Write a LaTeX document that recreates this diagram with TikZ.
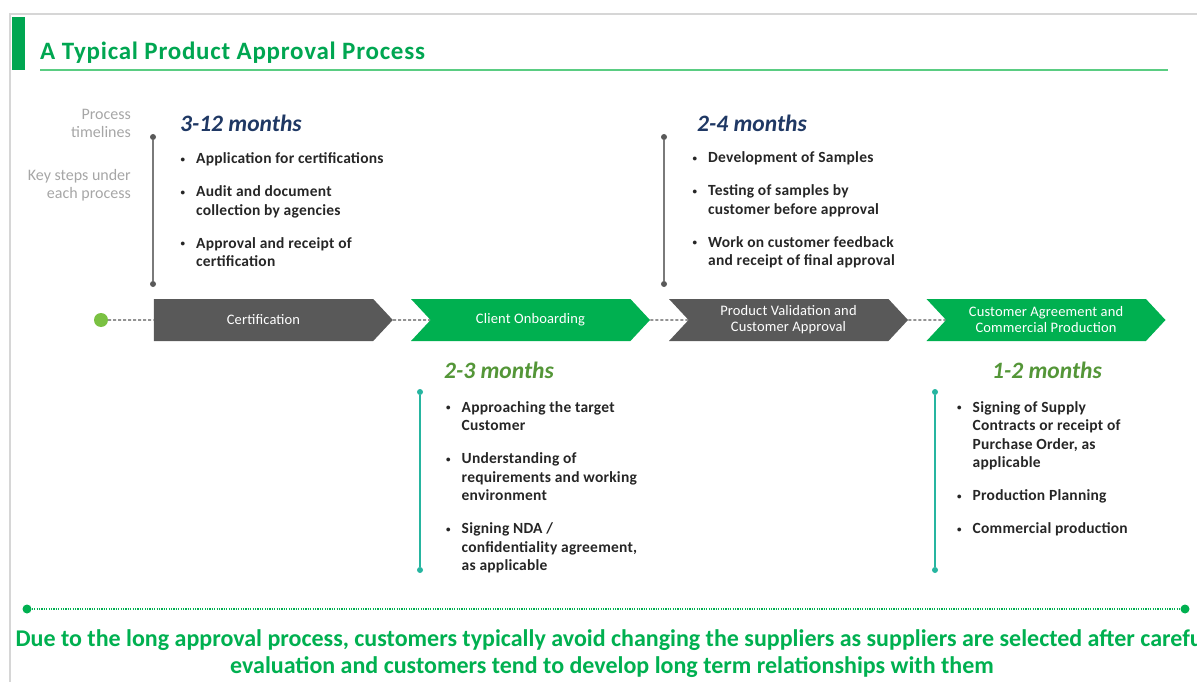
\documentclass[tikz,border=0pt]{standalone}
\usepackage{fontspec}
\setmainfont{Carlito}
\usetikzlibrary{shapes.symbols,backgrounds}

\definecolor{framegray}{RGB}{214,214,214}
\definecolor{titlegreen}{RGB}{0,166,81}
\definecolor{rulegreen}{RGB}{90,205,130}
\definecolor{stagegray}{RGB}{89,89,89}
\definecolor{stagegreen}{RGB}{0,176,80}
\definecolor{startgreen}{RGB}{122,193,66}
\definecolor{navytext}{RGB}{31,56,100}
\definecolor{olivegreen}{RGB}{84,150,56}
\definecolor{tealline}{RGB}{38,181,160}
\definecolor{labelgray}{RGB}{166,166,166}
\definecolor{bodytext}{RGB}{38,38,38}

\newcommand{\stepbullet}{\makebox[15.5pt][l]{\raisebox{1.5pt}{\fontsize{9}{9}\selectfont\textbullet}}}
\newcommand{\stepgap}{\\[14.5pt]}

\tikzset{
  stage/.style={signal, signal to=east, signal pointer angle=94,
    minimum width=239pt, minimum height=42pt, inner sep=0pt,
    align=center, text=white, font=\fontsize{14.5}{16}\selectfont\addfontfeatures{LetterSpace=1}},
  firststage/.style={stage, signal from=nowhere},
  laterstage/.style={stage, signal from=west},
  period/.style={anchor=base west, inner sep=0pt, font=\fontsize{23.5}{24}\selectfont\bfseries\itshape},
  steplist/.style={anchor=base west, inner sep=0pt, text=bodytext,
    font=\fontsize{15.5}{18.5}\selectfont\bfseries\addfontfeatures{LetterSpace=1.5}},
  sidelabel/.style={anchor=base east, inner sep=0pt, text=labelgray, font=\fontsize{16}{18}\selectfont},
  tdot/.style={circle, fill=#1, inner sep=0pt, minimum size=6pt},
  tline/.style={line width=1.5pt, draw=#1},
  link/.style={draw=stagegray, line width=1.3pt, dash pattern=on 3pt off 2pt}
}

\begin{document}
\begin{tikzpicture}[x=1pt, y=-1pt]
  \useasboundingbox (0,0) rectangle (1197,682);

  % frame and heading
  \draw[framegray, line width=1.5pt] (10,682) -- (10,14) -- (1197,14);
  \fill[titlegreen] (12,17) rectangle (25,70);
  \node[anchor=base west, inner sep=0pt, text=titlegreen,
    font=\fontsize{25}{26}\selectfont\bfseries\addfontfeatures{LetterSpace=3}]
    (title) at (40,59.5) {A Typical Product Approval Process};
  \draw[rulegreen, line width=2pt] (40,70) -- (1168,70);

  % row labels
  \node[sidelabel] (plabel) at (131,120) {\begin{tabular}[t]{@{}r@{}}Process\\timelines\end{tabular}};
  \node[sidelabel] (klabel) at (131,180) {\begin{tabular}[t]{@{}r@{}}Key steps under\\each process\end{tabular}};

  % stages
  \node[firststage, fill=stagegray] (cert) at (263.5,320) {Certification};
  \node[laterstage, fill=stagegreen] (onb) at (530.5,320) {Client Onboarding};
  \node[laterstage, fill=stagegray] (valid) at (788.5,320) {Product Validation and\\Customer Approval};
  \node[laterstage, fill=stagegreen] (agree) at (1046,320) {Customer Agreement and\\Commercial Production};
  \node[circle, fill=startgreen, inner sep=0pt, minimum size=14pt] (start) at (101,320) {};

  \begin{pgfonlayer}{background}
    \draw[link] (start) -- (cert);
    \draw[link] (cert) -- (onb);
    \draw[link] (onb) -- (valid);
    \draw[link] (valid) -- (agree);
  \end{pgfonlayer}

  % timeline bars
  \node[tdot=stagegray] (certtop) at (153,137) {};
  \node[tdot=stagegray] (certbot) at (153,284) {};
  \draw[tline=stagegray!80] (certtop) -- (certbot);
  \node[tdot=stagegray] (validtop) at (664,137) {};
  \node[tdot=stagegray] (validbot) at (664,284) {};
  \draw[tline=stagegray!80] (validtop) -- (validbot);
  \node[tdot=tealline] (onbtop) at (420,392) {};
  \node[tdot=tealline] (onbbot) at (420,570) {};
  \draw[tline=tealline] (onbtop) -- (onbbot);
  \node[tdot=tealline] (agreetop) at (935,392) {};
  \node[tdot=tealline] (agreebot) at (935,570) {};
  \draw[tline=tealline] (agreetop) -- (agreebot);

  % durations
  \node[period, text=navytext] (certtime) at (180,132) {3-12 months};
  \node[period, text=navytext] (validtime) at (697,132) {2-4 months};
  \node[period, text=olivegreen] (onbtime) at (444,378) {2-3 months};
  \node[period, text=olivegreen] (agreetime) at (992,378) {1-2 months};

  % key steps
  \node[steplist] (certsteps) at (180.5,164) {\begin{tabular}[t]{@{}l@{}l@{}}
    \stepbullet & Application for certifications\stepgap
    \stepbullet & Audit and document\\
                & collection by agencies\stepgap
    \stepbullet & Approval and receipt of\\
                & certification
  \end{tabular}};
  \node[steplist] (validsteps) at (692.5,163) {\begin{tabular}[t]{@{}l@{}l@{}}
    \stepbullet & Development of Samples\stepgap
    \stepbullet & Testing of samples by\\
                & customer before approval\stepgap
    \stepbullet & Work on customer feedback\\
                & and receipt of final approval
  \end{tabular}};
  \node[steplist] (onbsteps) at (446,412) {\begin{tabular}[t]{@{}l@{}l@{}}
    \stepbullet & Approaching the target\\
                & Customer\stepgap
    \stepbullet & Understanding of\\
                & requirements and working\\
                & environment\stepgap
    \stepbullet & Signing NDA /\\
                & confidentiality agreement,\\
                & as applicable
  \end{tabular}};
  \node[steplist] (agreesteps) at (957,412) {\begin{tabular}[t]{@{}l@{}l@{}}
    \stepbullet & Signing of Supply\\
                & Contracts or receipt of\\
                & Purchase Order, as\\
                & applicable\stepgap
    \stepbullet & Production Planning\stepgap
    \stepbullet & Commercial production
  \end{tabular}};

  % closing note
  \node[circle, fill=stagegreen, inner sep=0pt, minimum size=9pt] (noteleft) at (27,609) {};
  \node[circle, fill=stagegreen, inner sep=0pt, minimum size=9pt] (noteright) at (1185,609) {};
  \draw[stagegreen, line width=1.2pt, dash pattern=on 1.2pt off 1.2pt] (noteleft) -- (noteright);
  \node[anchor=base, inner sep=0pt, text=stagegreen, font=\fontsize{24}{27}\selectfont\bfseries]
    (note) at (612,646) {\begin{tabular}[t]{@{}c@{}}Due to the long approval process, customers typically avoid changing the suppliers as suppliers are selected after careful\\
    evaluation and customers tend to develop long term relationships with them\end{tabular}};
\end{tikzpicture}
\end{document}
